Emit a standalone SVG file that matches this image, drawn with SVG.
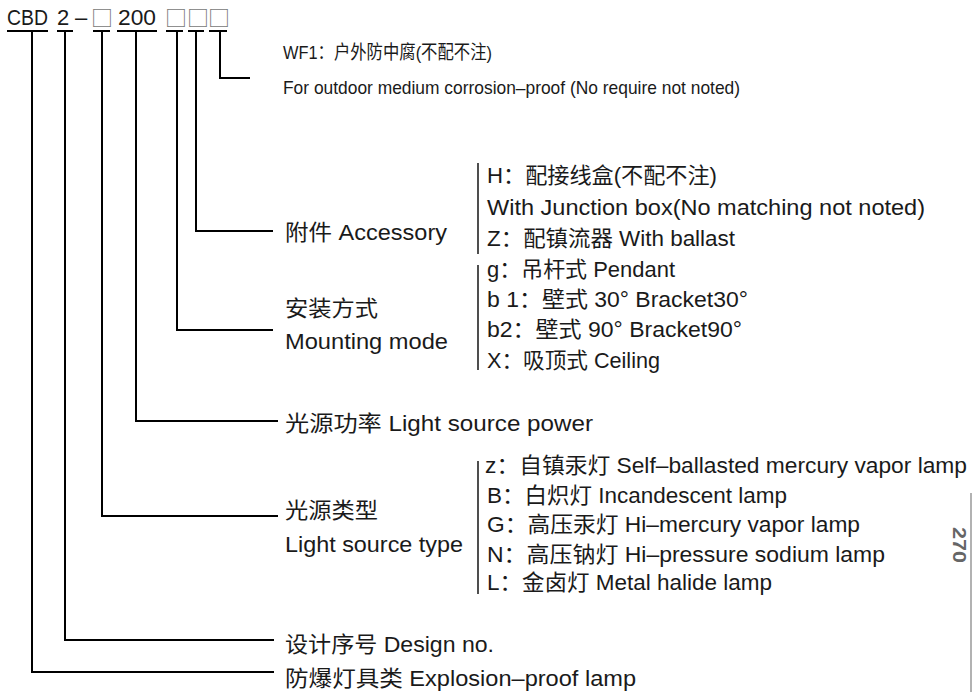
<svg xmlns="http://www.w3.org/2000/svg" width="973" height="692" viewBox="0 0 973 692">
<defs>
<style>
text{font-family:"Liberation Sans","Noto Sans CJK SC",sans-serif;font-size:22px;fill:#1a1a1a}
.sm{font-size:19px}
.box{font-family:"Noto Sans CJK SC",sans-serif;fill:#777}
.ln{fill:none;stroke:#000;stroke-width:2}
.br{fill:none;stroke:#222;stroke-width:1.6}
.pg{font-family:"Liberation Sans",sans-serif;font-size:18px;font-weight:bold;fill:#666}
</style>
</defs>
<rect width="973" height="692" fill="#fff"/>
<g id="code">
<text x="7" y="25" font-size="21" textLength="41" lengthAdjust="spacingAndGlyphs">CBD</text>
<text x="57" y="25" font-size="21">2</text>
<text x="75" y="25" font-size="21">–</text>
<text class="box" x="91" y="26" font-size="21">□</text>
<text x="118" y="25" font-size="21" textLength="38" lengthAdjust="spacingAndGlyphs">200</text>
<text class="box" x="165" y="26" font-size="21">□</text>
<text class="box" x="187" y="26" font-size="21">□</text>
<text class="box" x="208" y="26" font-size="21">□</text>
<path class="ln" d="M7,31H48M57,31H73M93,31H110M117,31H157M166,31H183M188,31H204M209,31H227"/>
</g>
<g id="connectors">
<path class="ln" d="M220,31V78H250"/>
<path class="ln" d="M196,31V231H273"/>
<path class="ln" d="M177,31V330H273"/>
<path class="ln" d="M136,31V421H278"/>
<path class="ln" d="M102,31V516H278"/>
<path class="ln" d="M65,31V640H274"/>
<path class="ln" d="M32,31V672H274"/>
</g>
<g id="node-wf1">
<text class="sm" x="283" y="59" textLength="209" lengthAdjust="spacingAndGlyphs">WF1：户外防中腐(不配不注)</text>
<text class="sm" x="283" y="94" textLength="457" lengthAdjust="spacingAndGlyphs">For outdoor medium corrosion–proof (No require not noted)</text>
</g>
<g id="node-accessory">
<text x="285" y="240" textLength="162" lengthAdjust="spacingAndGlyphs">附件 Accessory</text>
<path class="br" d="M478,163V254"/>
<text x="487" y="183" textLength="230" lengthAdjust="spacingAndGlyphs">H：配接线盒(不配不注)</text>
<text x="487" y="215" textLength="438" lengthAdjust="spacingAndGlyphs">With Junction box(No matching not noted)</text>
<text x="487" y="246" textLength="248" lengthAdjust="spacingAndGlyphs">Z：配镇流器 With ballast</text>
</g>
<g id="node-mounting">
<text x="285" y="316" textLength="93" lengthAdjust="spacingAndGlyphs">安装方式</text>
<text x="285" y="349" textLength="163" lengthAdjust="spacingAndGlyphs">Mounting mode</text>
<path class="br" d="M478,265V370"/>
<text x="487" y="277" textLength="188" lengthAdjust="spacingAndGlyphs">g：吊杆式 Pendant</text>
<text x="487" y="307" textLength="261" lengthAdjust="spacingAndGlyphs">b 1：壁式 30°  Bracket30°</text>
<text x="487" y="337" textLength="255" lengthAdjust="spacingAndGlyphs">b2：壁式 90°  Bracket90°</text>
<text x="487" y="368" textLength="173" lengthAdjust="spacingAndGlyphs">X：吸顶式 Ceiling</text>
</g>
<g id="node-power">
<text x="285" y="431" textLength="308" lengthAdjust="spacingAndGlyphs">光源功率  Light source power</text>
</g>
<g id="node-type">
<text x="285" y="518" textLength="93" lengthAdjust="spacingAndGlyphs">光源类型</text>
<text x="285" y="552" textLength="178" lengthAdjust="spacingAndGlyphs">Light source type</text>
<path class="br" d="M478,461V594"/>
<text x="485" y="473" textLength="482" lengthAdjust="spacingAndGlyphs">z：自镇汞灯 Self–ballasted mercury vapor lamp</text>
<text x="487" y="503" textLength="300" lengthAdjust="spacingAndGlyphs">B：白炽灯 Incandescent lamp</text>
<text x="487" y="532" textLength="373" lengthAdjust="spacingAndGlyphs">G：高压汞灯 Hi–mercury vapor lamp</text>
<text x="487" y="562" textLength="398" lengthAdjust="spacingAndGlyphs">N：高压钠灯 Hi–pressure sodium lamp</text>
<text x="487" y="590" textLength="285" lengthAdjust="spacingAndGlyphs">L：金卤灯 Metal halide lamp</text>
</g>
<g id="node-design">
<text x="285" y="652" textLength="209" lengthAdjust="spacingAndGlyphs">设计序号 Design no.</text>
</g>
<g id="node-explosion">
<text x="285" y="686" textLength="351" lengthAdjust="spacingAndGlyphs">防爆灯具类 Explosion–proof lamp</text>
</g>
<g id="page-mark">
<text class="pg" transform="translate(953,545) rotate(90)" text-anchor="middle" textLength="36" lengthAdjust="spacingAndGlyphs">270</text>
<path d="M971,493V692" stroke="#999" stroke-width="1.5"/>
</g>
</svg>
